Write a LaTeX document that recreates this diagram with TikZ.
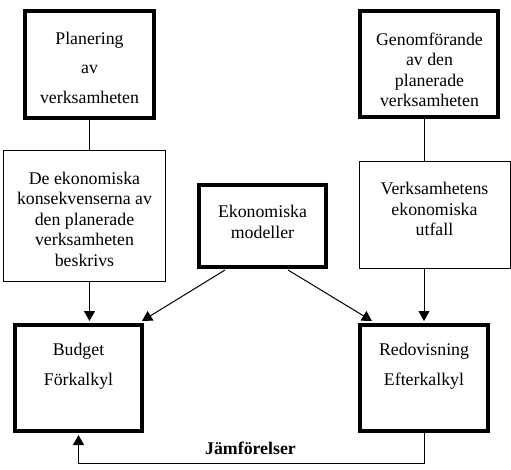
\documentclass[tikz,border=0pt]{standalone}
\usepackage{fontspec}
\setmainfont{Liberation Serif}
\usetikzlibrary{arrows.meta,calc}
\begin{document}
\begin{tikzpicture}[x=1pt,y=-1pt,
  thickbox/.style={draw,line width=4pt,inner sep=0pt,minimum width=#1},
  thinbox/.style={draw,line width=1pt,inner sep=0pt,minimum width=#1},
  txt/.style={align=center,inner sep=0pt,font=\fontsize{17.8}{20.5}\selectfont},
  conn/.style={line width=1pt},
  arr/.style={line width=1pt,-{Triangle[length=10pt,width=11pt]}}]
\useasboundingbox (0,0) rectangle (511,470);
% boxes
\node[thickbox=129pt,minimum height=107pt] (plan) at (89.5,64.5) {};
\node[thickbox=138pt,minimum height=106pt] (genom) at (429,64) {};
\node[thinbox=162pt,minimum height=130pt] (desc) at (84,216) {};
\node[thickbox=127pt,minimum height=82pt] (model) at (262.5,226) {};
\node[thinbox=151pt,minimum height=107pt] (verk) at (434.5,215.5) {};
\node[thickbox=127pt,minimum height=106pt] (budget) at (78.5,378) {};
\node[thickbox=128pt,minimum height=106pt] (redov) at (424,378) {};
% texts
\node[txt] (plantxt) at (89.5,67.5) {Planering\\[9pt]av\\[9pt]verksamheten};
\node[txt] (genomtxt) at (429.5,70) {Genomförande\\av den\\planerade\\verksamheten};
\node[txt] (desctxt) at (84.5,219) {De ekonomiska\\konsekvenserna av\\den planerade\\verksamheten\\beskrivs};
\node[txt] (modeltxt) at (262.5,222) {Ekonomiska\\modeller};
\node[txt] (verktxt) at (434.5,209) {Verksamhetens\\ekonomiska\\utfall};
\node[txt] (budgettxt) at (78.5,366) {Budget\\[9pt]Förkalkyl};
\node[txt] (redovtxt) at (424,366) {Redovisning\\[9pt]Efterkalkyl};
\node[txt,font=\fontsize{17.8}{20.5}\selectfont\bfseries] (jamf) at (250.5,448) {Jämförelser};
% connectors
\draw[conn] (plan.south) -- (plan.south |- desc.north);
\draw[arr] (desc.south -| plan) -- ($(budget.north -| plan)+(0,-2)$);
\draw[conn] (genom.south -| redov) -- (verk.north -| redov);
\draw[arr] (verk.south -| redov) -- ($(redov.north)+(0,-2)$);
\draw[arr] ($(model.south)+(-37.5,1)$) -- ($(budget.north east)+(-2,-2)$);
\draw[arr] ($(model.south)+(25.5,1)$) -- ($(redov.north west)+(14,-2)$);
\coordinate (fb) at (78.5,463);
\draw[arr] (redov.south) |- (fb) -- ($(budget.south)+(0,2)$);
\end{tikzpicture}
\end{document}
